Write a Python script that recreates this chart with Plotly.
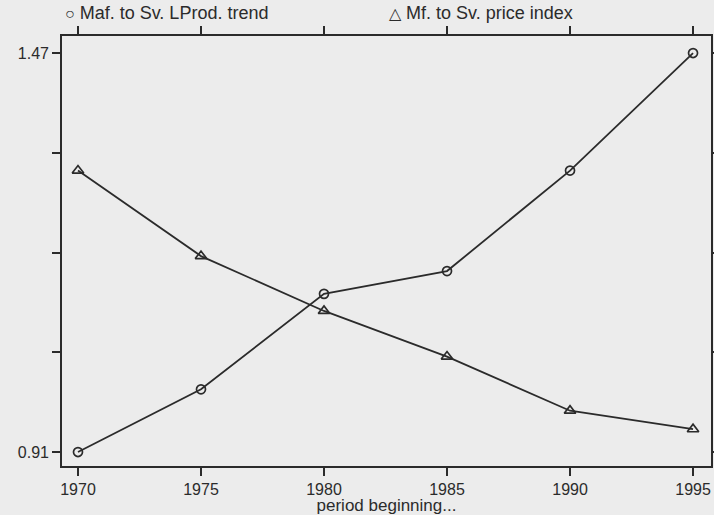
import plotly.graph_objects as go

# Period start years
years = [1970, 1975, 1980, 1985, 1990, 1995]

# Manufacturing-to-services labour productivity trend (relative)
lprod_trend = [0.91, 0.998, 1.132, 1.164, 1.305, 1.47]

# Manufacturing-to-services price index (relative)
price_index = [1.305, 1.185, 1.108, 1.044, 0.968, 0.942]

series_names = ["Maf. to Sv. LProd. trend", "Mf. to Sv. price index"]

# y-axis ticks: only the extremes carry labels
y_tickvals = [0.91, 1.05, 1.19, 1.33, 1.47]
y_ticktext = ["0.91", "", "", "", "1.47"]

ink = "#2b2b2b"
bg = "#ececec"
font_family = "Liberation Sans, Arial, sans-serif"

# Plot-area edges in pixels (used to place the key above the frame)
left_px, right_px = 62, 711

fig = go.Figure()

fig.add_trace(go.Scatter(
    x=years, y=lprod_trend, name=series_names[0], mode="lines+markers",
    line=dict(color=ink, width=1.8),
    marker=dict(symbol="circle-open", size=9, color=ink, line=dict(width=1.7)),
    showlegend=False,
))
fig.add_trace(go.Scatter(
    x=years, y=price_index, name=series_names[1], mode="lines+markers",
    line=dict(color=ink, width=1.8),
    marker=dict(symbol="triangle-up-open", size=10, color=ink, line=dict(width=1.7)),
    showlegend=False,
))

# Key above the frame: symbol glyph followed by the series name
key_items = [
    ("\u25cb", series_names[0], 63),
    ("\u25b3", series_names[1], 387),
]
for glyph, label, px in key_items:
    fig.add_annotation(
        x=(px - left_px) / (right_px - left_px), y=1.0,
        xref="paper", yref="paper",
        yanchor="bottom", xanchor="left", yshift=11, showarrow=False,
        text=f"<span style='font-size:16px'>{glyph}</span> {label}",
        font=dict(family=font_family, size=18, color=ink),
    )

axis_common = dict(
    showline=True, linecolor=ink, linewidth=1.7, mirror="ticks",
    ticks="outside", tickcolor=ink, tickwidth=1.7, ticklen=8,
    showgrid=False, zeroline=False, automargin=False,
    tickfont=dict(family=font_family, size=16, color=ink),
)

fig.update_xaxes(
    range=[1969.35, 1995.73], tickvals=years,
    title=dict(text="period beginning...", standoff=0,
               font=dict(family=font_family, size=17, color=ink)),
    **axis_common,
)
fig.update_yaxes(
    range=[0.8904, 1.4939], tickvals=y_tickvals, ticktext=y_ticktext,
    **axis_common,
)

fig.update_layout(
    width=714, height=515,
    margin=dict(l=left_px, r=714 - right_px, t=36, b=49),
    paper_bgcolor=bg, plot_bgcolor=bg,
    font=dict(family=font_family, color=ink),
)

fig.write_html("out.html")
